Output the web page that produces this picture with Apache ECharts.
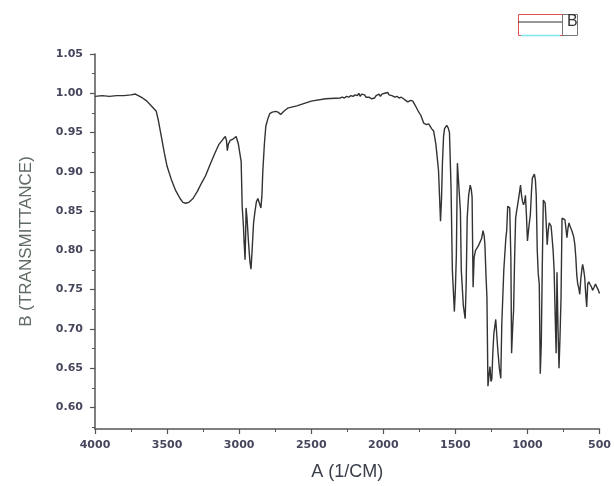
<!DOCTYPE html>
<html>
<head>
<meta charset="utf-8">
<script src="https://cdn.jsdelivr.net/npm/echarts@6/dist/echarts.min.js"></script>
<style>html,body{margin:0;padding:0;background:#fff}#c{width:614px;height:486px}</style>
</head>
<body>
<div id="c"></div>
<script>
const wavenumber = [4000,3950,3900,3850,3800,3750,3720,3700,3670,3640,3610,3575,3560,3540,3520,3500,3470,3440,3410,3390,3370,3350,3320,3290,3260,3233,3200,3170,3140,3110,3096,3088,3082,3075,3062,3040,3021,3005,2986,2979,2970,2966,2959,2955,2952,2945,2935,2925,2918,2910,2900,2890,2880,2870,2860,2849,2842,2836,2825,2815,2800,2788,2770,2747,2730,2712,2690,2664,2600,2500,2400,2300,2285,2270,2255,2240,2225,2210,2195,2180,2170,2160,2150,2140,2130,2120,2110,2100,2090,2080,2070,2060,2050,2040,2030,2020,2010,2000,1990,1980,1970,1960,1950,1940,1930,1920,1905,1890,1875,1860,1845,1830,1822,1810,1795,1780,1760,1740,1720,1700,1685,1665,1651,1635,1623,1617,1610,1603,1596,1590,1582,1575,1560,1550,1541,1530,1521,1507,1500,1493,1486,1473,1465,1459,1445,1432,1425,1418,1408,1397,1390,1384,1377,1370,1360,1349,1340,1329,1318,1308,1300,1295,1288,1281,1274,1267,1260,1253,1247,1240,1233,1220,1213,1206,1195,1185,1178,1164,1150,1144,1137,1130,1123,1115,1110,1103,1096,1089,1082,1075,1068,1058,1048,1041,1034,1027,1020,1014,1007,1000,990,980,972,966,952,945,939,932,925,918,911,904,897,890,884,877,870,863,856,849,843,836,829,822,815,808,801,795,788,781,774,767,760,750,740,733,726,719,712,705,699,692,680,671,664,658,651,644,637,630,623,617,610,603,596,589,582,575,562,555,548,540,528,521,510,500];
const transmittance = [0.996,0.997,0.996,0.997,0.997,0.998,0.999,0.997,0.994,0.990,0.984,0.977,0.965,0.945,0.925,0.907,0.890,0.876,0.866,0.861,0.860,0.861,0.866,0.875,0.886,0.895,0.910,0.923,0.935,0.942,0.945,0.940,0.927,0.935,0.940,0.942,0.945,0.935,0.913,0.856,0.830,0.812,0.788,0.820,0.854,0.840,0.810,0.785,0.776,0.800,0.835,0.850,0.862,0.866,0.866,0.854,0.870,0.900,0.935,0.958,0.968,0.974,0.976,0.977,0.976,0.973,0.977,0.981,0.984,0.990,0.993,0.994,0.995,0.994,0.996,0.995,0.997,0.996,0.998,0.997,1.000,0.996,0.999,0.997,0.998,0.995,0.997,0.995,0.996,0.993,0.995,0.994,0.997,0.995,0.999,0.996,0.999,0.997,1.000,0.998,1.001,0.998,1.000,0.997,0.998,0.995,0.996,0.994,0.995,0.993,0.991,0.989,0.989,0.991,0.990,0.985,0.978,0.972,0.962,0.960,0.961,0.955,0.952,0.935,0.913,0.902,0.870,0.837,0.866,0.910,0.945,0.955,0.959,0.956,0.950,0.880,0.775,0.722,0.750,0.795,0.911,0.913,0.850,0.775,0.730,0.713,0.757,0.841,0.870,0.883,0.878,0.868,0.753,0.791,0.800,0.803,0.806,0.806,0.815,0.825,0.818,0.807,0.770,0.740,0.627,0.640,0.652,0.633,0.636,0.670,0.694,0.712,0.713,0.674,0.650,0.637,0.706,0.775,0.815,0.825,0.856,0.858,0.854,0.790,0.669,0.700,0.724,0.790,0.841,0.850,0.858,0.870,0.883,0.870,0.862,0.858,0.862,0.870,0.845,0.812,0.830,0.845,0.875,0.892,0.897,0.890,0.870,0.800,0.770,0.757,0.643,0.681,0.780,0.864,0.866,0.860,0.835,0.807,0.825,0.835,0.834,0.831,0.816,0.800,0.775,0.720,0.669,0.772,0.700,0.650,0.690,0.740,0.841,0.840,0.839,0.828,0.816,0.828,0.835,0.831,0.829,0.825,0.818,0.807,0.790,0.769,0.757,0.752,0.744,0.763,0.775,0.782,0.775,0.766,0.745,0.728,0.757,0.760,0.759,0.753,0.749,0.752,0.757,0.757,0.750,0.745];
const yTickLabels = [0.60,0.65,0.70,0.75,0.80,0.85,0.90,0.95,1.00,1.05];
const yMinorTicks = [0.575,0.625,0.675,0.725,0.775,0.825,0.875,0.925,0.975,1.025];
const xTickLabels = [4000,3500,3000,2500,2000,1500,1000,500];

const chart = echarts.init(document.getElementById('c'));
const lineColor = '#555';
const tickFont = {fontFamily: 'DejaVu Sans', fontSize: 11, fontWeight: 'bold', color: '#45465c'};
chart.setOption({
  backgroundColor: '#fff',
  animation: false,
  grid: {left: 95, right: 7, top: 54, bottom: 53},
  legend: {
    left: 518, top: 14, padding: 0,
    itemWidth: 44, itemHeight: 21,
    textStyle: {fontFamily: 'Liberation Sans, Arial', fontSize: 16, color: '#333'},
    data: [{name: 'B', icon: 'path://M0,10 L44,10 L44,11.2 L0,11.2 Z'}]
  },
  graphic: [
    {type: 'rect', shape: {x: 518.5, y: 14.5, width: 44, height: 21}, style: {fill: 'none', stroke: '#e05050', lineWidth: 1}, silent: true},
    {type: 'rect', shape: {x: 562.5, y: 14.5, width: 15, height: 21}, style: {fill: 'none', stroke: '#777', lineWidth: 1}, silent: true},
    {type: 'line', shape: {x1: 521, y1: 35.5, x2: 560, y2: 35.5}, style: {stroke: '#7fe8f0', lineWidth: 1.5}, silent: true}
  ],
  xAxis: {
    type: 'value', inverse: true, min: 500, max: 4000, interval: 500,
    name: 'A (1/CM)', nameLocation: 'middle', nameGap: 34,
    nameTextStyle: {fontFamily: 'Liberation Sans, Arial', fontSize: 18, color: '#3a3d4a'},
    axisLine: {show: true, onZero: false, lineStyle: {color: lineColor, width: 1.5}},
    axisTick: {show: true, inside: false, length: 5, lineStyle: {color: lineColor, width: 1.2}},
    minorTick: {show: true, splitNumber: 2, length: 3, lineStyle: {color: lineColor, width: 1}},
    splitLine: {show: false},
    axisLabel: Object.assign({
      customValues: xTickLabels,
      formatter: v => String(v),
      margin: 11
    }, tickFont)
  },
  yAxis: [{
    type: 'value', min: 0.5725, max: 1.05,
    name: 'B (TRANSMITTANCE)', nameLocation: 'middle', nameGap: 60,
    nameTextStyle: {fontFamily: 'Liberation Sans, Arial', fontSize: 17, color: '#5f6b63'},
    axisLine: {show: true, onZero: false, lineStyle: {color: lineColor, width: 1.5}},
    axisTick: {show: true, customValues: yTickLabels, length: 5, lineStyle: {color: lineColor, width: 1.2}},
    splitLine: {show: false},
    axisLabel: Object.assign({
      customValues: yTickLabels,
      formatter: v => v.toFixed(2),
      margin: 12
    }, tickFont)
  }, {
    type: 'value', min: 0.5725, max: 1.05, position: 'left',
    axisLine: {show: false},
    axisTick: {show: true, customValues: yMinorTicks, length: 3, lineStyle: {color: lineColor, width: 1}},
    axisLabel: {show: false},
    splitLine: {show: false}
  }],
  series: [{
    name: 'B', type: 'line', yAxisIndex: 0,
    data: wavenumber.map((w, i) => [w, transmittance[i]]),
    showSymbol: false, symbol: 'none',
    lineStyle: {color: '#333', width: 1.4},
    itemStyle: {color: '#333'}
  }]
});
</script>
</body>
</html>
